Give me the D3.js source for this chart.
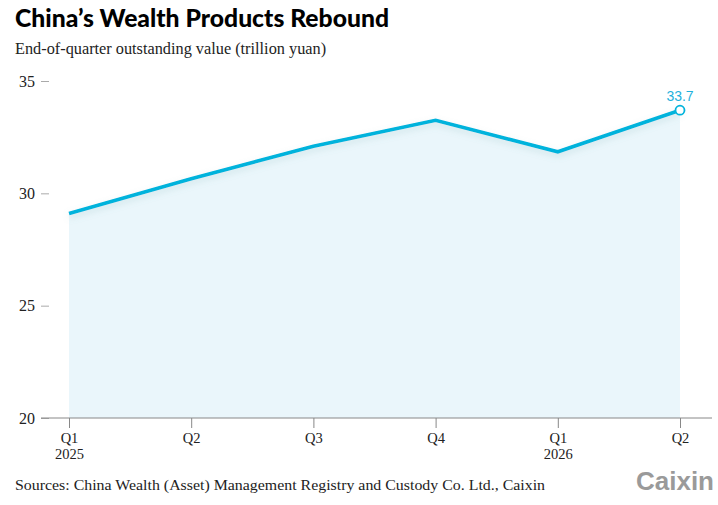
<!DOCTYPE html>
<html><head><meta charset="utf-8">
<script src="https://cdn.jsdelivr.net/npm/d3@7/dist/d3.min.js"></script>
<style>
body{margin:0;background:#fff;}
svg{display:block;}
</style></head>
<body>
<svg id="c" width="718" height="505"></svg>
<script>
const quarters = ["Q1|2025","Q2","Q3","Q4","Q1|2026","Q2"];
const values = [29.1, 30.65, 32.1, 33.25, 31.85, 33.7];
const yTicks = [20, 25, 30, 35];

const svg = d3.select("#c");
const x = d3.scalePoint().domain(d3.range(quarters.length)).range([69, 680]);
const y = d3.scaleLinear().domain([20, 35]).range([418, 81]);
const serif = "'Liberation Serif','DejaVu Serif',serif";

svg.append("text").attr("x",15).attr("y",27)
  .attr("font-family","Lato, sans-serif").attr("font-weight",900).attr("font-size",24.7)
  .attr("fill","#000").text("China’s Wealth Products Rebound");
svg.append("text").attr("x",15).attr("y",54)
  .attr("font-family",serif).attr("font-size",16.3).attr("fill","#222")
  .text("End-of-quarter outstanding value (trillion yuan)");

const defs = svg.append("defs");
const f = defs.append("filter").attr("id","sh").attr("x","-5%").attr("y","-20%").attr("width","110%").attr("height","160%");
f.append("feDropShadow").attr("dx",0).attr("dy",3).attr("stdDeviation",3).attr("flood-color","#7aa").attr("flood-opacity",0.25);

const area = d3.area().x((d,i)=>x(i)).y0(y(20)).y1(d=>y(d));
svg.append("path").datum(values).attr("d",area).attr("fill","#eaf6fb");

// y axis
const ya = svg.append("g").attr("transform","translate(49,0)")
  .call(d3.axisLeft(y).tickValues(yTicks).tickSize(8).tickPadding(6));
ya.select(".domain").remove();
ya.selectAll("line").attr("stroke","#aaa");
ya.selectAll("text").attr("font-family",serif).attr("font-size",16).attr("fill","#222");

// x axis
svg.append("line").attr("x1",41).attr("x2",712).attr("y1",y(20)).attr("y2",y(20)).attr("stroke","#888").attr("stroke-width",1);
const xa = svg.append("g").attr("transform",`translate(0,${y(20)})`)
  .call(d3.axisBottom(x).tickSize(10).tickPadding(2).tickFormat(""));
xa.select(".domain").remove();
xa.selectAll("line").attr("stroke","#888");
xa.selectAll(".tick").each(function(d){
  const parts = quarters[d].split("|");
  const g = d3.select(this);
  parts.forEach((p,k)=>g.append("text").attr("fill","#222")
    .attr("font-family",serif).attr("font-size",14.5).attr("text-anchor","middle")
    .attr("x",0).attr("y",24.5+k*16).text(p));
});

const line = d3.line().x((d,i)=>x(i)).y(d=>y(d));
svg.append("path").datum(values).attr("d",line).attr("fill","none")
  .attr("stroke","#00b3dc").attr("stroke-width",3.6).attr("stroke-linejoin","miter")
  .attr("filter","url(#sh)");

const li = values.length-1;
svg.append("circle").attr("cx",x(li)).attr("cy",y(values[li])).attr("r",4.5)
  .attr("fill","#fff").attr("stroke","#00b3dc").attr("stroke-width",1.8);
svg.append("text").attr("x",x(li)).attr("y",y(values[li])-9).attr("text-anchor","middle")
  .attr("font-family","'Liberation Sans',Arial,sans-serif").attr("font-size",14)
  .attr("fill","#1fb1dc").text(values[li].toFixed(1));

svg.append("text").attr("x",15).attr("y",490)
  .attr("font-family",serif).attr("font-size",15).attr("fill","#222")
  .attr("textLength",530).attr("lengthAdjust","spacingAndGlyphs")
  .text("Sources: China Wealth (Asset) Management Registry and Custody Co. Ltd., Caixin");
svg.append("text").attr("x",714).attr("y",490).attr("text-anchor","end")
  .attr("font-family","'Liberation Sans',Arial,sans-serif").attr("font-weight",700).attr("font-size",25)
  .attr("fill","#9a9a9a").attr("textLength",78).attr("lengthAdjust","spacingAndGlyphs").text("Caixin");
</script>
</body></html>
